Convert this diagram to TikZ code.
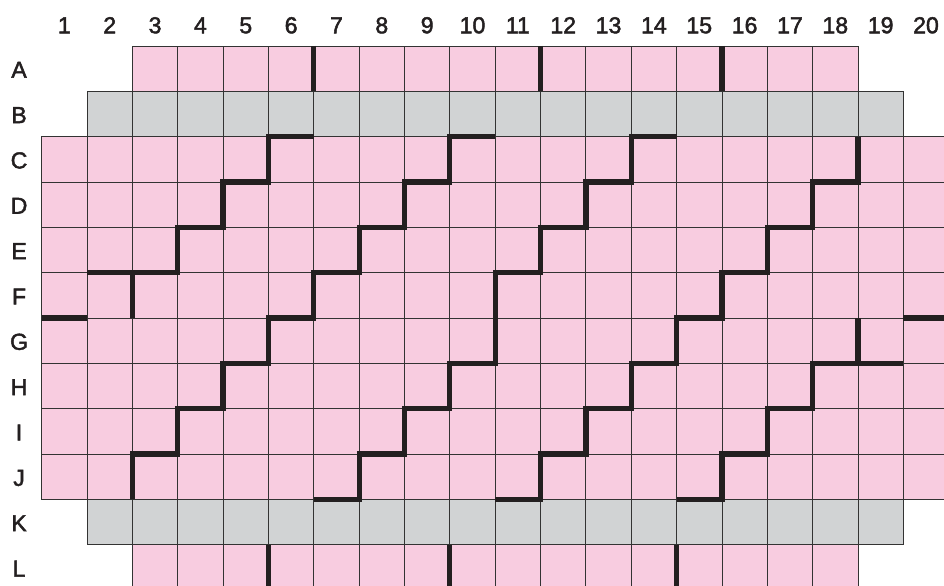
\documentclass[tikz,border=0pt]{standalone}
\usepackage{fontspec}
\setmainfont{Liberation Sans}
\newfontfamily\lblfont[FakeBold=2]{Liberation Sans}
\usetikzlibrary{positioning}
\definecolor{cellpink}{RGB}{248,204,224}
\definecolor{cellgray}{RGB}{209,211,212}
\definecolor{seamline}{RGB}{35,31,32}

\begin{document}
\begin{tikzpicture}[
    cell/.style={draw=black!80,line width=0.5pt},
    seam/.style={draw=seamline,line width=3.3pt,line join=miter},
    lbl/.style={font=\lblfont\fontsize{14.5}{16}\selectfont,text=seamline,inner sep=0pt,anchor=base}]
    \useasboundingbox (-0.92,-11.907) rectangle (19.897,1.014);
    \clip (-0.92,-11.907) rectangle (19.897,1.014);

    % pink rows A and L
    \foreach \c in {3,...,18} {
        \draw[cell,fill=cellpink] (\c-1,0) rectangle (\c,-1);
        \draw[cell,fill=cellpink] (\c-1,-11) rectangle (\c,-12);
    }
    % gray rows B and K
    \foreach \c in {2,...,19} {
        \draw[cell,fill=cellgray] (\c-1,-1) rectangle (\c,-2);
        \draw[cell,fill=cellgray] (\c-1,-10) rectangle (\c,-11);
    }
    % full rows C to J
    \foreach \r in {3,...,10}
        \foreach \c in {1,...,20}
            \draw[cell,fill=cellpink] (\c-1,-\r+1) rectangle (\c,-\r);

    % labels
    \foreach \c in {1,...,20}
        \node[lbl] (col\c) at (\c-0.5,0.28) {\c};
    \foreach \l [count=\i] in {A,B,C,D,E,F,G,H,I,J,K,L}
        \node[lbl] (row\l) at (-0.5,-\i+0.3) {\l};

    % seams in rows A and L
    \draw[seam] (6,0) -- (6,-1);
    \draw[seam] (11,0) -- (11,-1);
    \draw[seam] (15,0) -- (15,-1);
    \draw[seam] (5,-11) -- (5,-12);
    \draw[seam] (9,-11) -- (9,-12);
    \draw[seam] (14,-11) -- (14,-12);

    % staircases
    \draw[seam] (6,-2) -- (5,-2) -- (5,-3) -- (4,-3) -- (4,-4) -- (3,-4) -- (3,-5) -- (1,-5);
    \draw[seam] (2,-5) -- (2,-6);
    \draw[seam] (0,-6) -- (1,-6);
    \draw[seam] (10,-2) -- (9,-2) -- (9,-3) -- (8,-3) -- (8,-4) -- (7,-4) -- (7,-5) -- (6,-5)
        -- (6,-6) -- (5,-6) -- (5,-7) -- (4,-7) -- (4,-8) -- (3,-8) -- (3,-9) -- (2,-9) -- (2,-10);
    \draw[seam] (14,-2) -- (13,-2) -- (13,-3) -- (12,-3) -- (12,-4) -- (11,-4) -- (11,-5) -- (10,-5)
        -- (10,-7) -- (9,-7) -- (9,-8) -- (8,-8) -- (8,-9) -- (7,-9) -- (7,-10) -- (6,-10);
    \draw[seam] (18,-2) -- (18,-3) -- (17,-3) -- (17,-4) -- (16,-4) -- (16,-5) -- (15,-5) -- (15,-6)
        -- (14,-6) -- (14,-7) -- (13,-7) -- (13,-8) -- (12,-8) -- (12,-9) -- (11,-9) -- (11,-10) -- (10,-10);
    \draw[seam] (19,-7) -- (17,-7) -- (17,-8) -- (16,-8) -- (16,-9) -- (15,-9) -- (15,-10) -- (14,-10);
    \draw[seam] (18,-6) -- (18,-7);
    \draw[seam] (19,-6) -- (20,-6);
\end{tikzpicture}
\end{document}
